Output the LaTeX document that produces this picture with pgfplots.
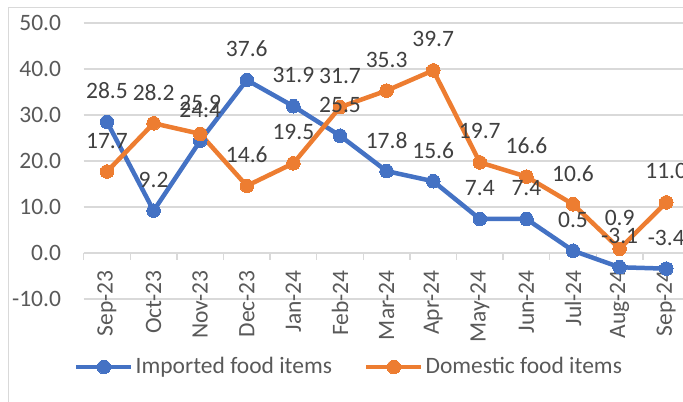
\documentclass[border=0pt]{standalone}
\usepackage{fontspec}
\setmainfont{Carlito}
\usepackage{pgfplots}
\usepackage{pgfplotstable}
\pgfplotsset{compat=1.18}
\definecolor{cblue}{HTML}{4472C4}
\definecolor{corange}{HTML}{ED7D31}
\definecolor{cgrid}{HTML}{D9D9D9}
\definecolor{ctick}{HTML}{595959}
\definecolor{clabel}{HTML}{404040}

\pgfplotstableread{
x imp dom
0 28.5 17.7
1 9.2 28.2
2 24.4 25.9
3 37.6 14.6
4 31.9 19.5
5 25.5 31.7
6 17.8 35.3
7 15.6 39.7
8 7.4 19.7
9 7.4 16.6
10 0.5 10.6
11 -3.1 0.9
12 -3.4 11.0
}\datatable

\begin{document}
\fontsize{23.5bp}{28bp}\selectfont
\begin{tikzpicture}
\useasboundingbox (0,0) rectangle (683bp,402bp);
\draw[cgrid, line width=1bp] (8bp,-20bp) -- (8bp,394bp) -- (720bp,394bp);
\begin{axis}[
  at={(83.7bp,103bp)}, anchor=south west,
  scale only axis, width=599.3bp, height=276bp,
  xmin=-0.5, xmax=12.36, ymin=-10, ymax=50,
  clip=false,
  axis x line*=middle, axis y line*=left,
  x axis line style={cgrid, line width=1.3bp},
  y axis line style={draw=none},
  ytick={-10,0,10,20,30,40,50},
  ymajorgrids, grid style={cgrid, line width=1.3bp},
  ytick style={draw=none},
  xtick={0,...,12},
  xticklabels={Sep-23,Oct-23,Nov-23,Dec-23,Jan-24,Feb-24,Mar-24,Apr-24,May-24,Jun-24,Jul-24,Aug-24,Sep-24},
  minor xtick={-0.5,0.5,...,11.5},
  major x tick style={draw=none},
  minor x tick style={cgrid, line width=1.3bp},
  minor tick length=7bp, major tick length=0pt,
  xtick align=outside,
  xticklabel style={rotate=90, anchor=east, inner sep=0pt, text=ctick},
  xticklabel shift=17bp,
  yticklabel style={anchor=east, inner sep=0pt, text=ctick, xshift=-22.5bp,
    /pgf/number format/.cd, fixed, fixed zerofill, precision=1, assume math mode=true},
  legend style={at={(-0.0162,-0.2464)}, anchor=west, draw=none, fill=none, inner sep=0pt,
    text=ctick, nodes={inner xsep=2bp, inner ysep=1bp},
    /tikz/every even column/.append style={column sep=30bp}},
  legend columns=2,
  legend cell align=left,
  legend image code/.code={
    \draw[#1] (0bp,0bp) -- (55bp,0bp);
    \draw[#1] plot coordinates {(27.5bp,0bp)};
  },
]
\addplot[cblue, line width=4.5bp, mark=*, mark size=6.8bp, mark options={fill=cblue, draw=cblue, line width=0bp}]
  table[x=x, y=imp]{\datatable};
\addlegendentry{Imported food items}
\addplot[corange, line width=4.5bp, mark=*, mark size=6.8bp, mark options={fill=corange, draw=corange, line width=0bp}]
  table[x=x, y=dom]{\datatable};
\addlegendentry{Domestic food items}
\addplot[draw=none, mark=none, forget plot,
  nodes near coords={\pgfmathprintnumber[fixed,fixed zerofill,precision=1,assume math mode=true]{\pgfplotspointmeta}},
  every node near coord/.append style={anchor=center, yshift=31bp, text=clabel, inner sep=0pt}]
  table[x=x, y=imp]{\datatable};
\addplot[draw=none, mark=none, forget plot,
  nodes near coords={\pgfmathprintnumber[fixed,fixed zerofill,precision=1,assume math mode=true]{\pgfplotspointmeta}},
  every node near coord/.append style={anchor=center, yshift=31bp, text=clabel, inner sep=0pt}]
  table[x=x, y=dom]{\datatable};
\end{axis}
\end{tikzpicture}
\end{document}
